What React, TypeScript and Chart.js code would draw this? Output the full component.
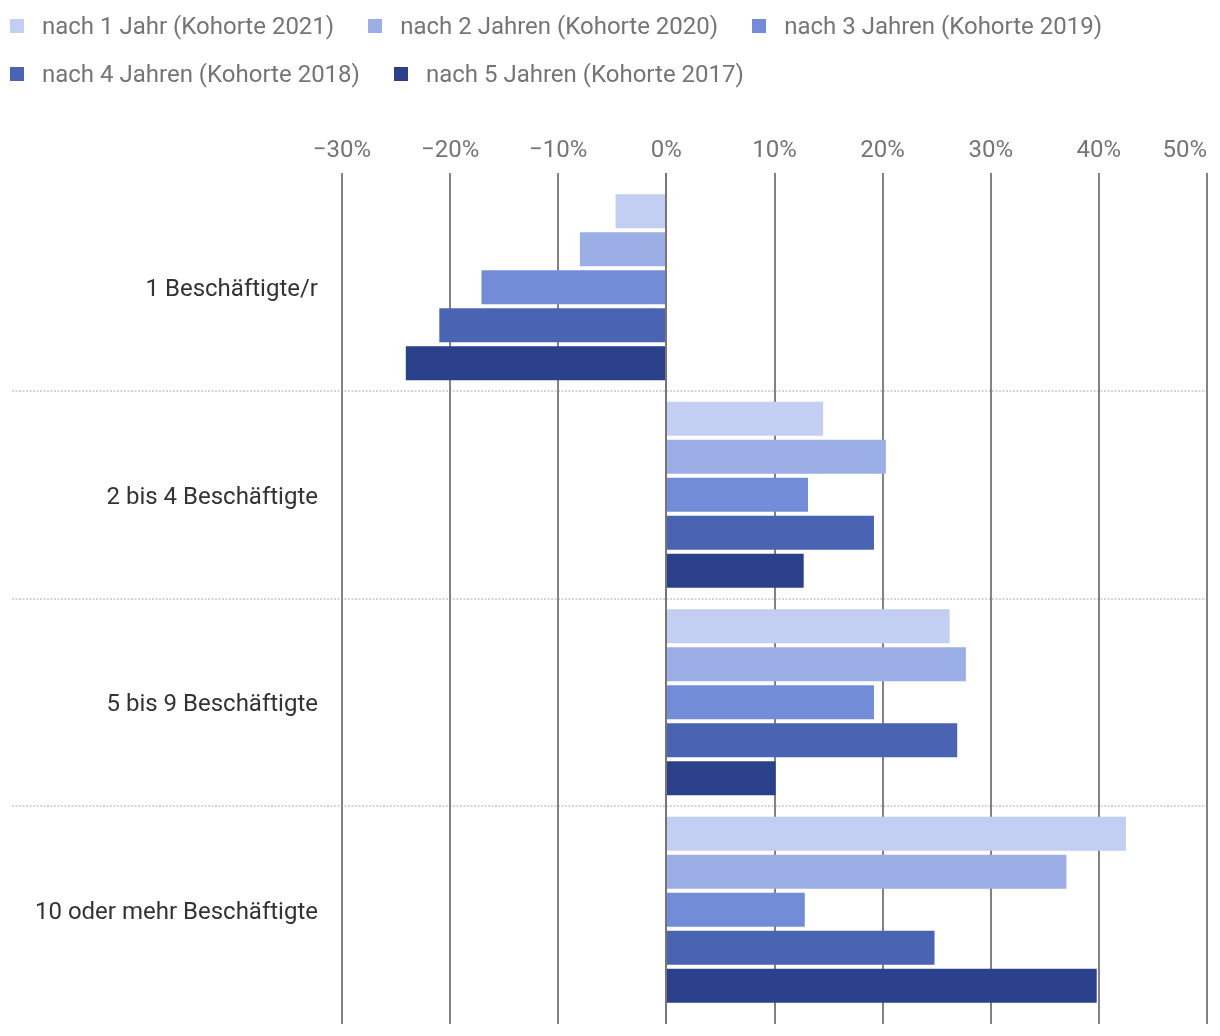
import React, { useEffect, useRef } from "react";
import { Chart, registerables } from "chart.js";

Chart.register(...registerables);

const categories = [
  "1 Beschäftigte/r",
  "2 bis 4 Beschäftigte",
  "5 bis 9 Beschäftigte",
  "10 oder mehr Beschäftigte",
];
const seriesNames = [
  "nach 1 Jahr (Kohorte 2021)",
  "nach 2 Jahren (Kohorte 2020)",
  "nach 3 Jahren (Kohorte 2019)",
  "nach 4 Jahren (Kohorte 2018)",
  "nach 5 Jahren (Kohorte 2017)",
];
const nach1Jahr = [-4.7, 14.5, 26.2, 42.5];
const nach2Jahren = [-8.0, 20.3, 27.7, 37.0];
const nach3Jahren = [-17.1, 13.1, 19.2, 12.8];
const nach4Jahren = [-21.0, 19.2, 26.9, 24.8];
const nach5Jahren = [-24.1, 12.7, 10.1, 39.8];
const xTickValues = [-30, -20, -10, 0, 10, 20, 30, 40, 50];
const xTickLabels = ["−30%", "−20%", "−10%", "0%", "10%", "20%", "30%", "40%", "50%"];

const colors = ["#c3cff2", "#9caee6", "#738cd7", "#4a63b2", "#2a408b"];
const seriesValues = [nach1Jahr, nach2Jahren, nach3Jahren, nach4Jahren, nach5Jahren];

const FONT = "Roboto, 'Noto Sans', sans-serif";
const FS = 24;

const decorPlugin = {
  id: "decor",
  beforeDatasetsDraw(chart: any) {
    const { ctx, chartArea, scales } = chart;
    const x = scales.x;
    const y = scales.y;
    ctx.save();
    // dotted separators between categories
    ctx.strokeStyle = "#d6d6d6";
    ctx.lineWidth = 2;
    ctx.setLineDash([2, 1.5]);
    for (let i = 0; i < categories.length - 1; i++) {
      const py = Math.round((y.getPixelForValue(i) + y.getPixelForValue(i + 1)) / 2);
      ctx.beginPath();
      ctx.moveTo(12, py);
      ctx.lineTo(chartArea.right, py);
      ctx.stroke();
    }
    ctx.setLineDash([]);
    // vertical grid lines
    ctx.strokeStyle = "#828282";
    ctx.lineWidth = 2;
    xTickValues.forEach((v) => {
      const px = Math.round(x.getPixelForValue(v));
      ctx.beginPath();
      ctx.moveTo(px, chartArea.top - 10.5);
      ctx.lineTo(px, chartArea.bottom + 10.5);
      ctx.stroke();
    });
    ctx.restore();
  },
  afterDatasetsDraw(chart: any) {
    const { ctx, chartArea, scales } = chart;
    const px = Math.round(scales.x.getPixelForValue(0));
    ctx.save();
    ctx.strokeStyle = "#767676";
    ctx.lineWidth = 2;
    ctx.beginPath();
    ctx.moveTo(px, chartArea.top - 10.5);
    ctx.lineTo(px, chartArea.bottom + 10.5);
    ctx.stroke();
    ctx.restore();
  },
  afterDraw(chart: any) {
    const { ctx, chartArea, scales } = chart;
    const x = scales.x;
    ctx.save();
    ctx.font = `${FS}px ${FONT}`;
    ctx.fillStyle = "#757575";
    ctx.textBaseline = "middle";
    xTickValues.forEach((v, i) => {
      const label = xTickLabels[i];
      const px = x.getPixelForValue(v);
      const w = ctx.measureText(label).width;
      if (px + w / 2 > chartArea.right) {
        ctx.textAlign = "right";
        ctx.fillText(label, chartArea.right, chartArea.top - 33);
      } else {
        ctx.textAlign = "center";
        ctx.fillText(label, px, chartArea.top - 33);
      }
    });
    ctx.restore();
  },
};

export default function App() {
  const canvasRef = useRef<HTMLCanvasElement | null>(null);

  useEffect(() => {
    document.body.style.margin = "0";
    const canvas = canvasRef.current;
    if (!canvas) return;
    const chart = new Chart(canvas, {
      type: "bar",
      data: {
        labels: categories,
        datasets: seriesNames.map((name, i) => ({
          label: name,
          data: seriesValues[i],
          backgroundColor: colors[i],
          borderWidth: 0,
          categoryPercentage: 0.916,
          barPercentage: 0.895,
        })),
      },
      options: {
        indexAxis: "y",
        responsive: true,
        maintainAspectRatio: false,
        animation: false,
        layout: { padding: { top: 183.5, bottom: 22.5, left: 0, right: 13 } },
        plugins: {
          legend: { display: false },
          tooltip: { enabled: false },
        },
        scales: {
          x: {
            type: "linear",
            min: -30,
            max: 50,
            display: false,
            ticks: { stepSize: 10 },
          },
          y: {
            grid: { display: false, drawTicks: false },
            border: { display: false },
            ticks: {
              color: "#333333",
              font: { family: FONT, size: FS },
              padding: 24,
              labelOffset: 3,
            },
            afterFit: (s: any) => {
              s.width = 342;
              s.paddingTop = 0;
              s.paddingBottom = 0;
            },
          },
        },
      },
      plugins: [decorPlugin],
    } as any);
    return () => chart.destroy();
  }, []);

  return (
    <div style={{ position: "relative", width: 1220, height: 1036, background: "#fff" }}>
      <canvas ref={canvasRef} style={{ position: "absolute", left: 0, top: 0 }} />
      <div
        style={{
          position: "absolute",
          left: 0,
          top: 2,
          width: 1220,
          paddingLeft: 10,
          boxSizing: "border-box",
          display: "flex",
          flexWrap: "wrap",
          fontFamily: FONT,
        }}
      >
        {seriesNames.map((name, i) => (
          <div
            key={name}
            style={{ display: "flex", alignItems: "center", height: 48, marginRight: 34 }}
          >
            <span
              style={{ width: 14, height: 14, background: colors[i], marginRight: 18, display: "inline-block" }}
            />
            <span style={{ fontSize: FS, color: "#757575", whiteSpace: "nowrap" }}>{name}</span>
          </div>
        ))}
      </div>
    </div>
  );
}
